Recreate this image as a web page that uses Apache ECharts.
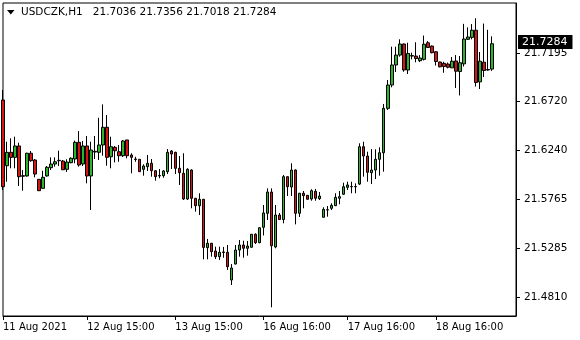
<!DOCTYPE html>
<html><head><meta charset="utf-8">
<script src="https://cdn.jsdelivr.net/npm/echarts@6/dist/echarts.min.js"></script>
<style>html,body{margin:0;padding:0;background:#fff}#c{width:580px;height:340px}</style>
</head><body><div id="c"></div>
<script>
const symbolName = 'USDCZK,H1';
const opens = [21.6734,21.6091,21.6222,21.6173,21.6284,21.5994,21.5991,21.6213,21.6147,21.5958,
21.5870,21.5991,21.6072,21.6108,21.6144,21.6137,21.6056,21.6121,21.6157,21.6320,
21.6108,21.6284,21.5991,21.6232,21.6222,21.6294,21.6467,21.6179,21.6271,21.6228,
21.6189,21.6343,21.6196,21.6157,21.6154,21.6056,21.6082,21.6115,21.6042,21.5996,
21.5994,21.6033,21.6235,21.6222,21.6066,21.6017,21.5766,21.6049,21.5773,21.5700,
21.5763,21.5290,21.5333,21.5257,21.5202,21.5248,21.5245,21.4974,21.5130,21.5267,
21.5316,21.5284,21.5294,21.5421,21.5339,21.5489,21.5626,21.5834,21.5297,21.5609,
21.5565,21.5984,21.5883,21.6049,21.5626,21.5822,21.5802,21.5766,21.5841,21.5769,
21.5587,21.5658,21.5675,21.5700,21.5773,21.5812,21.5880,21.5888,21.5885,21.5912,
21.6277,21.6186,21.6023,21.6049,21.6154,21.6218,21.6652,21.6880,21.7076,21.7173,
21.7281,21.7027,21.7168,21.7163,21.7118,21.7131,21.7293,21.7261,21.7205,21.7105,
21.7092,21.7085,21.7048,21.7115,21.7012,21.7087,21.7327,21.7346,21.7416,21.6911,
21.7103,21.7032,21.7036];
const closes = [21.5886,21.6222,21.6173,21.6284,21.5984,21.5988,21.6213,21.6140,21.6010,21.5847,
21.5978,21.6076,21.6108,21.6130,21.6140,21.6052,21.6127,21.6164,21.6320,21.6098,
21.6284,21.5991,21.6245,21.6225,21.6294,21.6467,21.6173,21.6277,21.6238,21.6189,
21.6333,21.6189,21.6173,21.6152,21.6033,21.6088,21.6115,21.6042,21.5984,21.5991,
21.6040,21.6222,21.6206,21.6066,21.6023,21.5766,21.6056,21.5773,21.5700,21.5763,
21.5292,21.5333,21.5251,21.5202,21.5245,21.5243,21.5104,21.5091,21.5267,21.5316,
21.5284,21.5306,21.5421,21.5339,21.5485,21.5629,21.5834,21.5309,21.5609,21.5565,
21.5984,21.5886,21.6049,21.5626,21.5822,21.5798,21.5763,21.5847,21.5773,21.5795,
21.5665,21.5661,21.5704,21.5782,21.5789,21.5886,21.5903,21.5885,21.5888,21.6277,
21.6186,21.6027,21.6049,21.6154,21.6218,21.6652,21.6880,21.7076,21.7173,21.7281,
21.7027,21.7188,21.7163,21.7139,21.7144,21.7279,21.7247,21.7196,21.7110,21.7058,
21.7061,21.7054,21.7113,21.7015,21.7098,21.7330,21.7349,21.7416,21.6905,21.7113,
21.7022,21.7027,21.7284];
const highs = [21.6831,21.6326,21.6359,21.6375,21.6316,21.6049,21.6218,21.6235,21.6157,21.5961,
21.6042,21.6088,21.6173,21.6173,21.6238,21.6147,21.6154,21.6173,21.6336,21.6430,
21.6333,21.6382,21.6326,21.6382,21.6560,21.6691,21.6587,21.6375,21.6284,21.6294,
21.6343,21.6343,21.6213,21.6179,21.6154,21.6105,21.6196,21.6157,21.6049,21.6059,
21.6049,21.6254,21.6245,21.6228,21.6186,21.6213,21.6066,21.6056,21.5776,21.5822,
21.5766,21.5375,21.5336,21.5300,21.5300,21.5297,21.5316,21.5130,21.5316,21.5365,
21.5358,21.5355,21.5424,21.5430,21.5489,21.5707,21.5870,21.5870,21.5707,21.5629,
21.6001,21.5986,21.6115,21.6056,21.5825,21.5844,21.5805,21.5861,21.5864,21.5834,
21.5685,21.5697,21.5724,21.5822,21.5844,21.5925,21.5935,21.5935,21.5919,21.6310,
21.6326,21.6228,21.6254,21.6251,21.6271,21.6695,21.6929,21.7255,21.7255,21.7327,
21.7286,21.7294,21.7196,21.7298,21.7173,21.7364,21.7310,21.7266,21.7212,21.7108,
21.7108,21.7100,21.7154,21.7173,21.7164,21.7478,21.7444,21.7476,21.7533,21.7203,
21.7481,21.7420,21.7356];
const lows = [21.5854,21.5935,21.6066,21.6066,21.5893,21.5847,21.5984,21.6130,21.5978,21.5844,
21.5866,21.5984,21.6049,21.6082,21.6088,21.6049,21.6030,21.6115,21.6115,21.6082,
21.6088,21.5919,21.5658,21.6157,21.6147,21.6189,21.6091,21.6066,21.6124,21.6130,
21.6176,21.6163,21.6017,21.6130,21.6033,21.5994,21.6040,21.5984,21.5945,21.5968,
21.5974,21.6010,21.6059,21.6010,21.5903,21.5756,21.5756,21.5675,21.5642,21.5609,
21.5176,21.5176,21.5202,21.5179,21.5170,21.5192,21.5072,21.4925,21.5127,21.5202,
21.5192,21.5212,21.5292,21.5326,21.5333,21.5409,21.5561,21.4707,21.5284,21.5561,
21.5528,21.5795,21.5795,21.5518,21.5590,21.5675,21.5761,21.5749,21.5749,21.5756,
21.5585,21.5593,21.5658,21.5697,21.5714,21.5805,21.5854,21.5822,21.5822,21.5903,
21.5984,21.5935,21.5912,21.5961,21.5994,21.6033,21.6636,21.6858,21.7007,21.7157,
21.7010,21.6988,21.7131,21.7102,21.7105,21.7120,21.7242,21.7190,21.7071,21.7053,
21.7000,21.7043,21.7046,21.6851,21.6778,21.7061,21.7320,21.7327,21.6865,21.6841,
21.6958,21.7020,21.7018];
const timeLabels = ['11 Aug 2021','12 Aug 15:00','13 Aug 15:00','16 Aug 16:00','17 Aug 16:00','18 Aug 16:00'];
const timeLabelBars = [0,21,43,65,86,108];
const priceTicks = [21.4810,21.5285,21.5765,21.6240,21.6720,21.7195];
const emptyBarsRight = 6;

const nSlots = opens.length + emptyBarsRight;
const categories = Array.from({length: nSlots}, (_, i) => String(i));
const candles = opens.map((o, i) => [o, closes[i], lows[i], highs[i]]);
const last = opens.length - 1;
const lastPrice = closes[last];
const FONT = '"DejaVu Sans", sans-serif';
const isLabelBar = (idx) => timeLabelBars.indexOf(idx) >= 0;

const chart = echarts.init(document.getElementById('c'), null, {renderer: 'canvas'});
chart.setOption({
  animation: false,
  backgroundColor: '#fff',
  grid: {left: 3, right: 64, top: 3, bottom: 24, show: true, borderColor: '#000', borderWidth: 1, containLabel: false},
  graphic: [
    {type: 'polygon', shape: {points: [[7, 10], [14.5, 10], [10.75, 14.5]]}, style: {fill: '#000'}, silent: true},
    {type: 'text', left: 21, top: 7, silent: true,
     style: {text: symbolName + '   ' + [opens[last], highs[last], lows[last], closes[last]].map(v => v.toFixed(4)).join(' '),
             font: '10.5px ' + FONT, fill: '#000'}}
  ],
  xAxis: {
    type: 'category', data: categories, boundaryGap: false,
    axisLine: {show: true, lineStyle: {color: '#000', width: 1}},
    axisTick: {show: true, interval: (idx) => isLabelBar(idx), length: 4, lineStyle: {color: '#000'}},
    axisLabel: {interval: (idx) => isLabelBar(idx), formatter: (v) => timeLabels[timeLabelBars.indexOf(Number(v))] || '',
                align: 'left', margin: 6, color: '#000', fontFamily: FONT, fontSize: 10},
    splitLine: {show: false}
  },
  yAxis: {
    type: 'value', position: 'right', min: 21.4622, max: 21.7682, scale: true,
    axisLine: {show: true, lineStyle: {color: '#000', width: 1}},
    axisTick: {show: true, customValues: priceTicks, length: 4, lineStyle: {color: '#000'}},
    axisLabel: {customValues: priceTicks, formatter: (v) => v.toFixed(4), margin: 8, color: '#000', fontFamily: FONT, fontSize: 10.5},
    splitLine: {show: false}
  },
  series: [{
    type: 'candlestick',
    data: candles,
    barWidth: 3,
    clip: true,
    itemStyle: {color: '#2db42d', color0: '#d81515', borderColor: '#000', borderColor0: '#000', borderColorDoji: '#000', borderWidth: 1},
    markLine: {
      silent: true, symbol: ['none', 'none'], animation: false, clip: false,
      lineStyle: {color: 'rgba(0,0,0,0)', width: 1, type: 'solid'},
      emphasis: {disabled: true},
      data: [{yAxis: lastPrice}],
      label: {show: true, position: 'end', distance: 2, formatter: () => lastPrice.toFixed(4), opacity: 1,
              backgroundColor: '#000', color: '#fff', padding: [2, 5, 1, 4], fontFamily: FONT, fontSize: 11}
    }
  }]
});
</script></body></html>
